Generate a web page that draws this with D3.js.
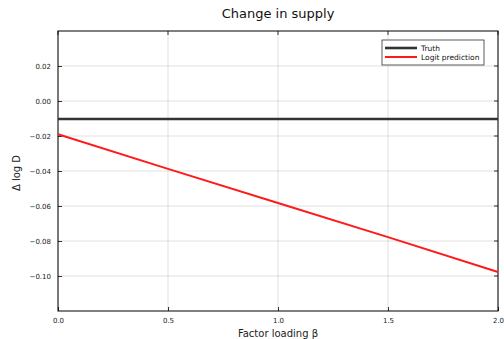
<!DOCTYPE html>
<html><head><meta charset="utf-8">
<script src="https://cdn.jsdelivr.net/npm/d3@7"></script>
<style>body{margin:0;background:#fff}svg{display:block}text{font-family:"DejaVu Sans",sans-serif}</style>
</head><body>
<svg id="c" width="504" height="339"></svg>
<script>
const betaVals = [0.0, 0.5, 1.0, 1.5, 2.0];
const truthVals = [-0.0103, -0.0103, -0.0103, -0.0103, -0.0103];
const logitVals = [-0.0190, -0.0388, -0.0583, -0.0778, -0.0977];
const xTicks = [0.0, 0.5, 1.0, 1.5, 2.0];
const yTicks = [0.02, 0.00, -0.02, -0.04, -0.06, -0.08, -0.10];
const seriesNames = ["Truth", "Logit prediction"];
const seriesColors = ["#333333", "#ff1a1a"];

const svg = d3.select("#c");
const L = 58, R = 498, T = 31, B = 311;
const x = d3.scaleLinear().domain([0, 2]).range([L, R]);
const y = d3.scaleLinear().domain([-0.12, 0.04]).range([B, T]);

// grid
svg.append("g").selectAll("line").data(xTicks).join("line")
  .attr("x1", d => x(d)).attr("x2", d => x(d)).attr("y1", T).attr("y2", B)
  .attr("stroke", "#000").attr("stroke-opacity", 0.12).attr("stroke-width", 1);
svg.append("g").selectAll("line").data(yTicks).join("line")
  .attr("x1", L).attr("x2", R).attr("y1", d => y(d)).attr("y2", d => y(d))
  .attr("stroke", "#000").attr("stroke-opacity", 0.12).attr("stroke-width", 1);

const fmtY = d => (d < 0 ? "\u2212" : "") + Math.abs(d).toFixed(2);
const fmtX = d => d.toFixed(1);

// axes
const ax = svg.append("g").attr("transform", `translate(0,${B})`)
  .call(d3.axisBottom(x).tickValues(xTicks).tickFormat(fmtX).tickSize(-4).tickPadding(7));
const ay = svg.append("g").attr("transform", `translate(${L},0)`)
  .call(d3.axisLeft(y).tickValues(yTicks).tickFormat(fmtY).tickSize(-4).tickPadding(7));
[ax, ay].forEach(g => {
  g.select(".domain").remove();
  g.selectAll("text").attr("font-size", 7).attr("fill", "#222").attr("font-family", "DejaVu Sans");
  g.selectAll(".tick line").attr("stroke", "#000").attr("stroke-width", 0.8);
});
// top/right mirrored ticks
svg.append("g").selectAll("line").data(xTicks).join("line")
  .attr("x1", d => x(d)).attr("x2", d => x(d)).attr("y1", T).attr("y2", T + 4)
  .attr("stroke", "#000").attr("stroke-width", 0.8);
svg.append("g").selectAll("line").data(yTicks).join("line")
  .attr("x1", R - 4).attr("x2", R).attr("y1", d => y(d)).attr("y2", d => y(d))
  .attr("stroke", "#000").attr("stroke-width", 0.8);

// frame
svg.append("rect").attr("x", L).attr("y", T).attr("width", R - L).attr("height", B - T)
  .attr("fill", "none").attr("stroke", "#000").attr("stroke-width", 1);

// lines
const line = d3.line().x(d => x(d[0])).y(d => y(d[1]));
const series = [truthVals, logitVals];
const widths = [2.6, 2];
series.forEach((vals, i) => {
  svg.append("path").datum(betaVals.map((b, j) => [b, vals[j]]))
    .attr("d", line).attr("fill", "none")
    .attr("stroke", seriesColors[i]).attr("stroke-width", widths[i]);
});

// title & labels
svg.append("text").attr("x", (L + R) / 2).attr("y", 17.5).attr("text-anchor", "middle")
  .attr("font-size", 13).attr("fill", "#111").text("Change in supply");
svg.append("text").attr("x", (L + R) / 2).attr("y", 336.5).attr("text-anchor", "middle")
  .attr("font-size", 10).attr("fill", "#222").text("Factor loading \u03b2");
svg.append("text").attr("transform", `translate(19.5,173) rotate(-90)`)
  .attr("text-anchor", "middle").attr("font-size", 10).attr("fill", "#222").text("\u0394 log D");

// legend
const lg = svg.append("g");
lg.append("rect").attr("x", 382).attr("y", 40).attr("width", 102).attr("height", 25)
  .attr("fill", "#fff").attr("stroke", "#333").attr("stroke-width", 0.8);
seriesNames.forEach((n, i) => {
  const yy = 48 + i * 9;
  lg.append("line").attr("x1", 385).attr("x2", 417).attr("y1", yy).attr("y2", yy)
    .attr("stroke", seriesColors[i]).attr("stroke-width", widths[i]);
  lg.append("text").attr("x", 421).attr("y", yy + 2.5).attr("font-size", 7.5)
    .attr("fill", "#111").text(n);
});
</script>
</body></html>
